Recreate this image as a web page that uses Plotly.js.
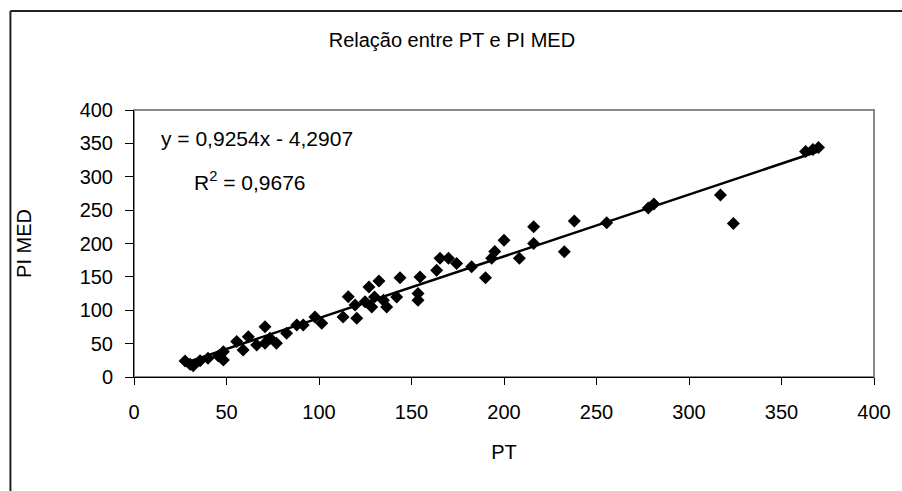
<!DOCTYPE html>
<html>
<head>
<meta charset="utf-8">
<script src="https://cdn.plot.ly/plotly-3.0.1.min.js"></script>
<style>html,body{margin:0;padding:0;background:#fff;}#chart{width:902px;height:491px;}</style>
</head>
<body>
<div id="chart"></div>
<script>
// Data
var PT = [27.6, 30.3, 32, 35.7, 40, 45.6, 48.3, 48.3, 55.5, 59, 61.8, 66.3, 70.8, 70.8, 73.5, 77, 82.5, 88, 91.5, 97.8,
          101.5, 113, 115.8, 119.5, 120.4, 124.9, 127, 128.5, 130, 132.4, 134.8, 136.6, 142, 143.8, 153.5, 153.5, 154.6,
          163.6, 165.4, 170, 174.4, 182.5, 190, 193.3, 195, 200, 208.3, 216, 216, 232.6, 238, 255.5, 278, 281, 317, 324,
          363, 367, 370];
var PI_MED = [24, 19, 17, 24.4, 28, 31.5, 38, 25.5, 53, 40.4, 60.4, 48, 75.4, 50.5, 58, 50.5, 65.5, 78, 78, 90,
              80.5, 90, 120.3, 108, 88, 112.8, 135, 105, 120, 143.8, 115, 105, 120, 148.8, 125, 115, 150,
              160, 177.8, 178, 170, 165, 148.8, 177.8, 188, 205, 177.8, 200, 225, 187.7, 233.7, 231, 253, 259, 272.7, 230,
              338, 341, 344];
var slope = 0.9254;
var intercept = -4.2907;
var r2 = 0.9676;
var xTicks = [0, 50, 100, 150, 200, 250, 300, 350, 400];
var yTicks = [0, 50, 100, 150, 200, 250, 300, 350, 400];

var xMin = Math.min.apply(null, PT), xMax = Math.max.apply(null, PT);
var fmt = function(v){ return String(v).replace('.', ','); };

var traces = [
  {x: PT, y: PI_MED, type: 'scatter', mode: 'markers',
   marker: {symbol: 'diamond', size: 10, color: '#000'}, showlegend: false, hoverinfo: 'x+y'},
  {x: [xMin, xMax], y: [slope * xMin + intercept, slope * xMax + intercept], type: 'scatter', mode: 'lines',
   line: {color: '#000', width: 2.5}, showlegend: false}
];

var font = {family: 'Liberation Sans, Arial, sans-serif', size: 20, color: '#000'};
var annFont = {family: 'Liberation Sans, Arial, sans-serif', size: 21, color: '#000'};
var layout = {
  width: 902, height: 491,
  margin: {l: 134, r: 28, t: 110, b: 114, pad: 0},
  paper_bgcolor: '#fff', plot_bgcolor: '#fff',
  font: font,
  title: {text: 'Relação entre PT e PI MED', x: 0.501, xref: 'container', xanchor: 'center',
          y: 0.918, yref: 'container', yanchor: 'middle', font: font},
  xaxis: {range: [0, 400], tickvals: xTicks, ticktext: xTicks.map(String), ticks: 'outside', ticklen: 7,
          tickcolor: '#000', showline: true, linecolor: '#000', linewidth: 1, showgrid: false, zeroline: false,
          ticklabelstandoff: 10, tickfont: font,
          title: {text: 'PT', font: font, standoff: 22}},
  yaxis: {range: [0, 400], tickvals: yTicks, ticktext: yTicks.map(String), ticks: 'outside', ticklen: 8,
          tickcolor: '#000', showline: true, linecolor: '#000', linewidth: 1, showgrid: false, zeroline: false,
          ticklabelstandoff: 8, tickfont: font,
          title: {text: 'PI MED', font: font, standoff: 42}},
  shapes: [
    {type: 'rect', xref: 'paper', yref: 'paper', x0: 0, x1: 1, y0: 0, y1: 1, layer: 'below',
     line: {color: '#888', width: 2}},
    {type: 'line', xref: 'paper', yref: 'paper', x0: -0.167, x1: 1.2, y0: 1.371, y1: 1.371,
     line: {color: '#222', width: 2}},
    {type: 'line', xref: 'paper', yref: 'paper', x0: -0.167, x1: -0.167, y0: 1.371, y1: -0.6,
     line: {color: '#222', width: 2}}
  ],
  annotations: [
    {text: 'y = ' + fmt(slope) + 'x - ' + fmt(-intercept), xref: 'paper', yref: 'paper',
     x: (257 - 134) / 740, y: (377 - 138) / 267, xanchor: 'center', yanchor: 'middle', showarrow: false, font: annFont},
    {text: 'R<sup>2</sup> = ' + fmt(r2), xref: 'paper', yref: 'paper',
     x: (250 - 134) / 740, y: (377 - 181) / 267, xanchor: 'center', yanchor: 'middle', showarrow: false, font: annFont}
  ]
};

Plotly.newPlot('chart', traces, layout, {displayModeBar: false, staticPlot: true});
</script>
</body>
</html>
